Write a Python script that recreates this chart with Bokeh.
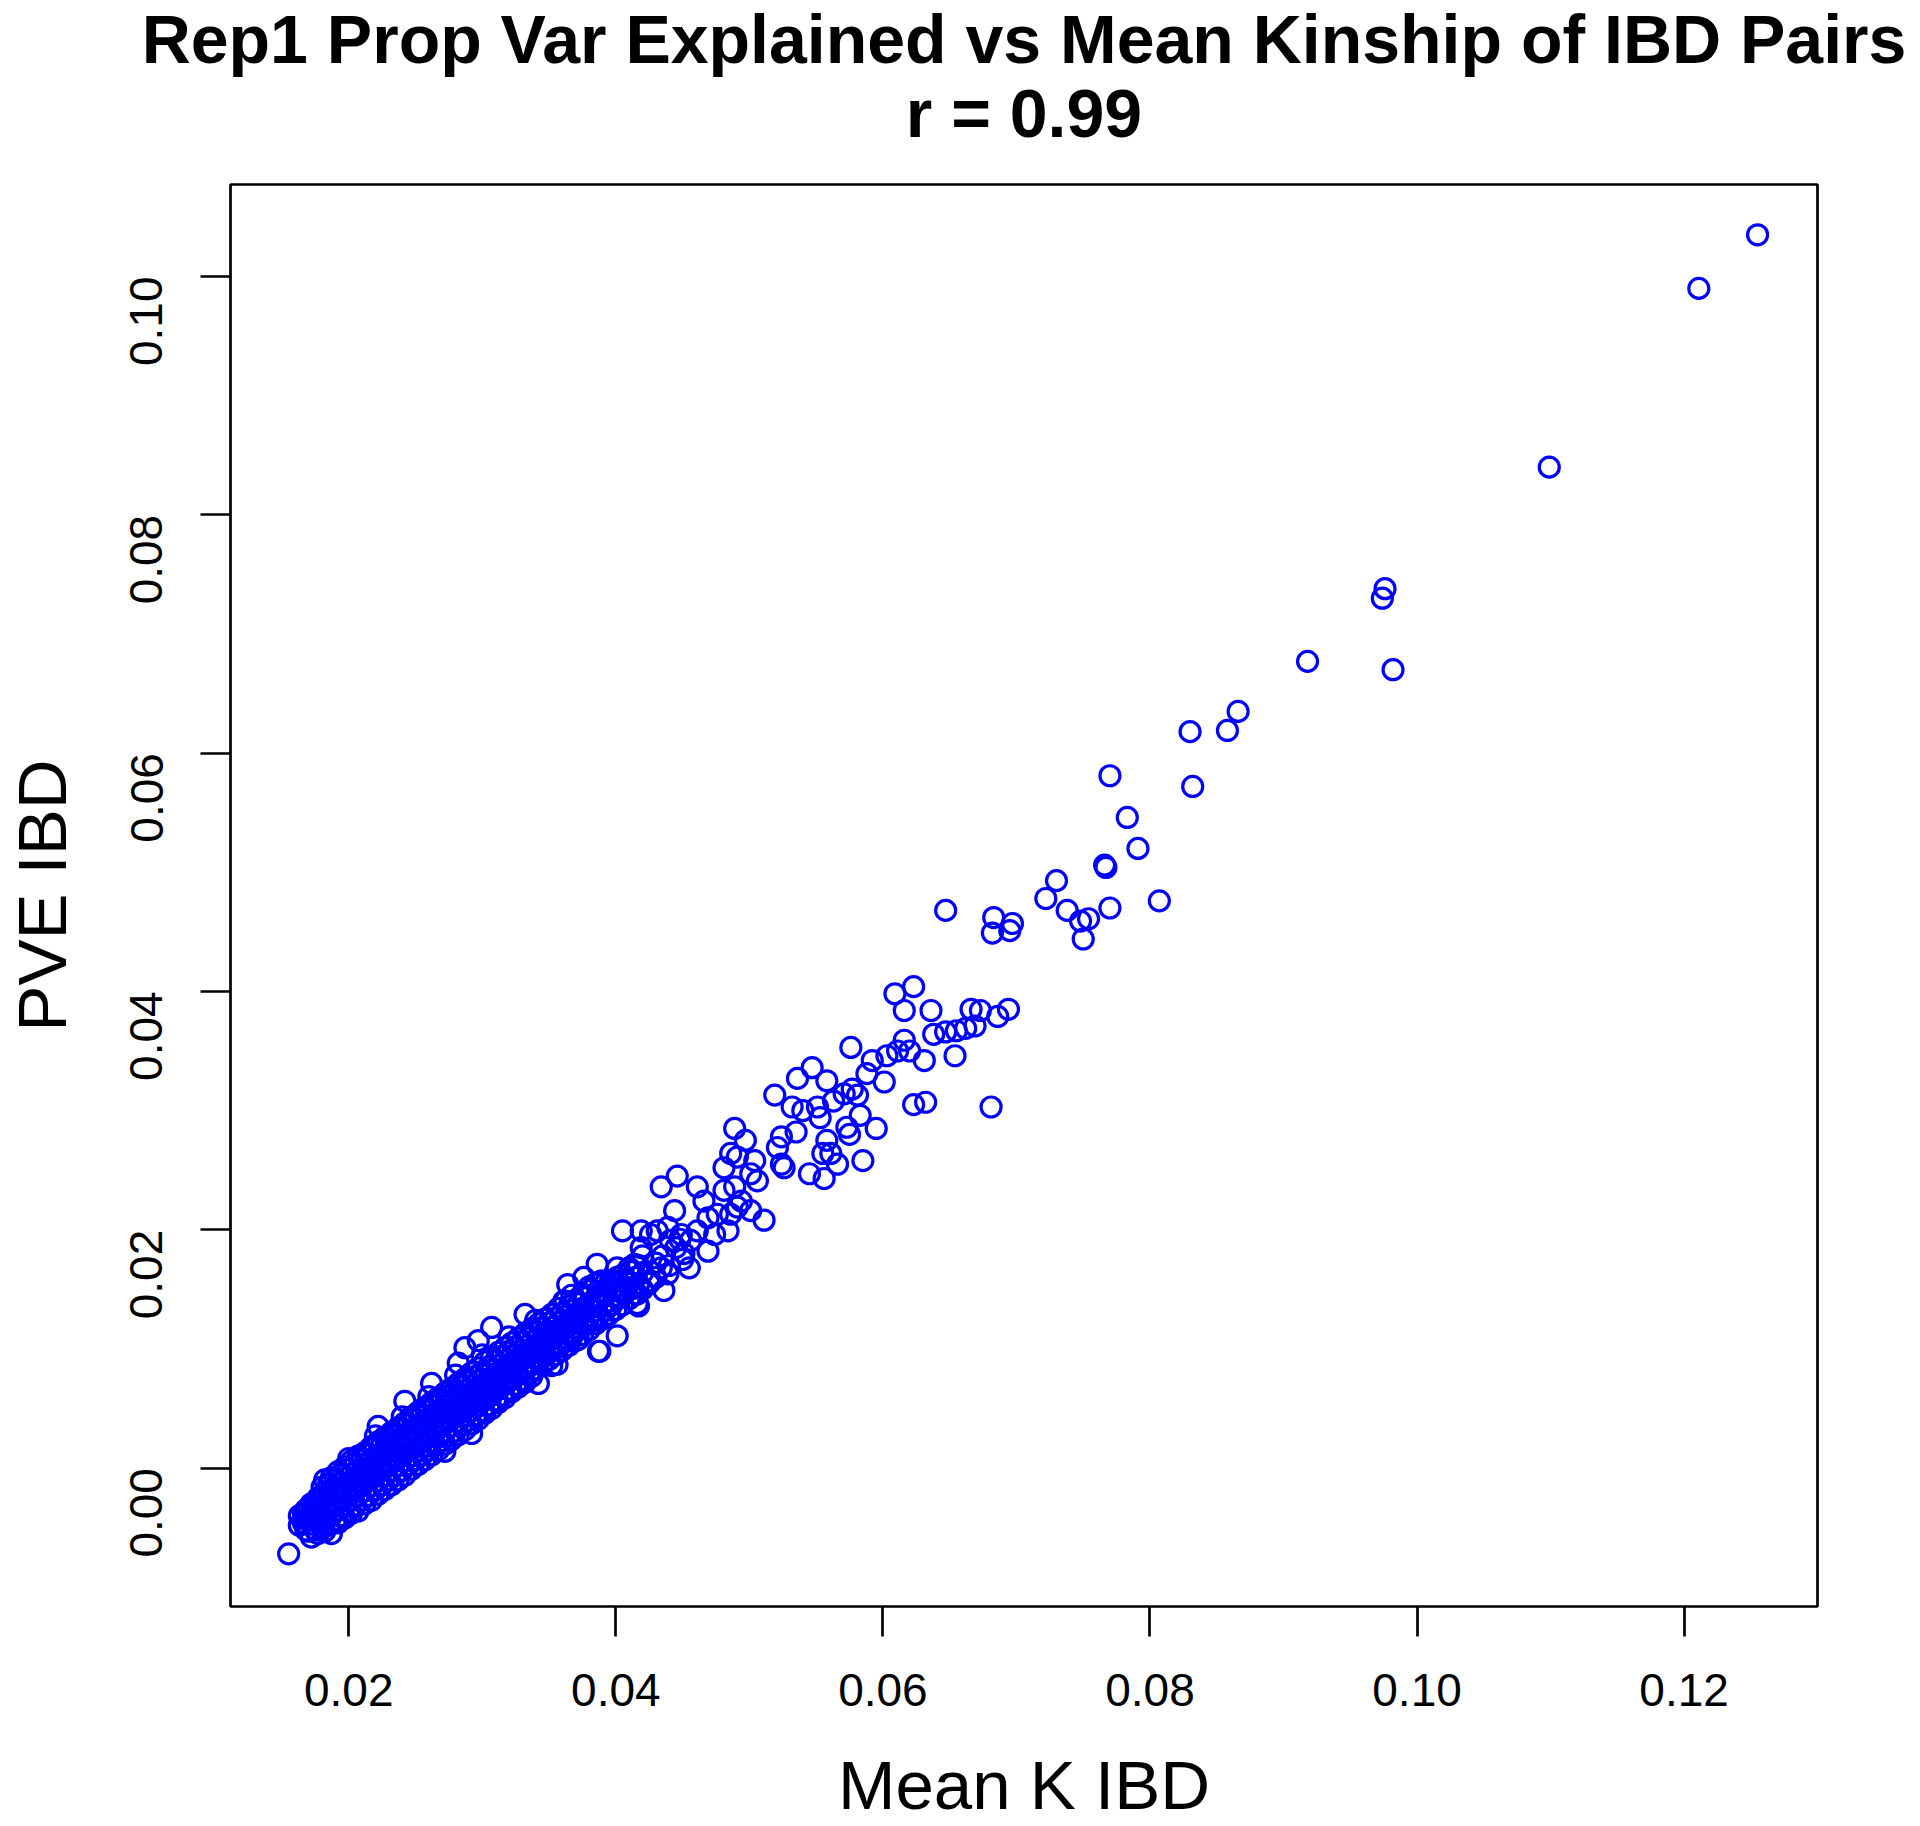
import math
from bokeh.plotting import figure
from bokeh.models import FixedTicker, PrintfTickFormatter, Title
from bokeh.embed import file_html
from bokeh.resources import INLINE

title_line1 = "Rep1 Prop Var Explained vs Mean Kinship of IBD Pairs"
title_line2 = "r = 0.99"
x_label = "Mean K IBD"
y_label = "PVE IBD"
x_ticks = [0.02, 0.04, 0.06, 0.08, 0.10, 0.12]
y_ticks = [0.00, 0.02, 0.04, 0.06, 0.08, 0.10]

# dense lower band: one x per column, several PVE values per column
band_x = [0.0155, 0.0163, 0.0168, 0.0172, 0.0177, 0.0182, 0.0187, 0.0192, 0.0197, 0.0202,
          0.0207, 0.0212, 0.0217, 0.0222, 0.0227, 0.0232, 0.0237, 0.0242, 0.0247, 0.0252,
          0.0257, 0.0262, 0.0267, 0.0272, 0.0277, 0.0282, 0.0287, 0.0292, 0.0297, 0.0302,
          0.0307, 0.0312, 0.0317, 0.0322, 0.0327, 0.0332, 0.0337, 0.0342, 0.0347, 0.0352,
          0.0357, 0.0362, 0.0367, 0.0372, 0.0377, 0.0382, 0.0387, 0.0392, 0.0397, 0.0401,
          0.0406, 0.0411, 0.0417]
band_y = [
    [-0.0072],
    [-0.0048, -0.0040],
    [-0.0052, -0.0043, -0.0035],
    [-0.0058, -0.0047, -0.0038, -0.0030],
    [-0.0055, -0.0045, -0.0034, -0.0025],
    [-0.0053, -0.0042, -0.0031, -0.0020, -0.0010],
    [-0.0055, -0.0040, -0.0029, -0.0018, -0.0008],
    [-0.0046, -0.0035, -0.0024, -0.0013, -0.0003],
    [-0.0042, -0.0031, -0.0020, -0.0009, 0.0001],
    [-0.0038, -0.0027, -0.0016, -0.0005, 0.0006],
    [-0.0036, -0.0023, -0.0012, -0.0001, 0.0010],
    [-0.0030, -0.0019, -0.0008, 0.0003, 0.0013],
    [-0.0027, -0.0015, -0.0004, 0.0007, 0.0018],
    [-0.0022, -0.0011, 0.0000, 0.0011, 0.0022, 0.0035],
    [-0.0018, -0.0007, 0.0004, 0.0015, 0.0026],
    [-0.0014, -0.0002, 0.0009, 0.0019, 0.0030],
    [-0.0010, 0.0002, 0.0013, 0.0023, 0.0034],
    [-0.0006, 0.0006, 0.0017, 0.0028, 0.0038, 0.0056],
    [-0.0001, 0.0010, 0.0021, 0.0032, 0.0043],
    [0.0003, 0.0014, 0.0025, 0.0036, 0.0047],
    [0.0007, 0.0018, 0.0029, 0.0040, 0.0051],
    [0.0011, 0.0022, 0.0033, 0.0044, 0.0055, 0.0071],
    [0.0015, 0.0026, 0.0037, 0.0048, 0.0059],
    [0.0014, 0.0020, 0.0031, 0.0042, 0.0053, 0.0063],
    [0.0024, 0.0035, 0.0046, 0.0057, 0.0067],
    [0.0028, 0.0039, 0.0050, 0.0061, 0.0071, 0.0088],
    [0.0032, 0.0043, 0.0054, 0.0065, 0.0075, 0.0101],
    [0.0029, 0.0037, 0.0048, 0.0059, 0.0069, 0.0080],
    [0.0041, 0.0052, 0.0063, 0.0073, 0.0084, 0.0107],
    [0.0046, 0.0057, 0.0067, 0.0078, 0.0089],
    [0.0050, 0.0061, 0.0071, 0.0082, 0.0093, 0.0118],
    [0.0055, 0.0066, 0.0076, 0.0086, 0.0097],
    [0.0059, 0.0070, 0.0080, 0.0090, 0.0101],
    [0.0064, 0.0074, 0.0084, 0.0094, 0.0105],
    [0.0068, 0.0078, 0.0088, 0.0098, 0.0109],
    [0.0072, 0.0082, 0.0092, 0.0102, 0.0113, 0.0129],
    [0.0077, 0.0087, 0.0096, 0.0106, 0.0117],
    [0.0071, 0.0090, 0.0100, 0.0110, 0.0121],
    [0.0094, 0.0104, 0.0114, 0.0125],
    [0.0086, 0.0098, 0.0108, 0.0118, 0.0129],
    [0.0102, 0.0112, 0.0122, 0.0134],
    [0.0106, 0.0117, 0.0127, 0.0140],
    [0.0110, 0.0121, 0.0132, 0.0145],
    [0.0108, 0.0116, 0.0126, 0.0138],
    [0.0120, 0.0131, 0.0143],
    [0.0124, 0.0135, 0.0150],
    [0.0098, 0.0128, 0.0140],
    [0.0132, 0.0145, 0.0155],
    [0.0137, 0.0150],
    [0.0111, 0.0142, 0.0160],
    [0.0146, 0.0158],
    [0.0150, 0.0165],
    [0.0136, 0.0154, 0.0170],
]

# second, interleaved set of columns inside the same dense band
band2_x = [0.0166, 0.0170, 0.0175, 0.0180, 0.0185, 0.0190, 0.0195, 0.0200, 0.0205, 0.0210,
           0.0215, 0.0220, 0.0225, 0.0230, 0.0235, 0.0240, 0.0245, 0.0250, 0.0255, 0.0260,
           0.0265, 0.0270, 0.0275, 0.0280, 0.0285, 0.0290, 0.0295, 0.0300, 0.0305, 0.0310,
           0.0315, 0.0320, 0.0325, 0.0330, 0.0335, 0.0340, 0.0345, 0.0350, 0.0355, 0.0360,
           0.0365, 0.0370, 0.0375, 0.0380, 0.0385, 0.0390, 0.0395, 0.0400, 0.0405, 0.0410,
           0.0415, 0.0420]
band2_y = [
    [-0.0046, -0.0038],
    [-0.0053, -0.0042, -0.0033],
    [-0.0052, -0.0041, -0.0031],
    [-0.0050, -0.0039, -0.0027, -0.0016],
    [-0.0048, -0.0036, -0.0024, -0.0013],
    [-0.0044, -0.0032, -0.0021, -0.0009],
    [-0.0040, -0.0028, -0.0017, -0.0005],
    [-0.0036, -0.0024, -0.0012, -0.0001, 0.0008],
    [-0.0031, -0.0019, -0.0008, 0.0004],
    [-0.0027, -0.0015, -0.0004, 0.0008],
    [-0.0023, -0.0011, 0.0000, 0.0012],
    [-0.0018, -0.0006, 0.0005, 0.0017, 0.0027],
    [-0.0014, -0.0002, 0.0009, 0.0021],
    [-0.0010, 0.0002, 0.0013, 0.0025],
    [-0.0006, 0.0006, 0.0017, 0.0029],
    [-0.0002, 0.0010, 0.0021, 0.0033, 0.0043],
    [0.0003, 0.0014, 0.0026, 0.0037],
    [0.0007, 0.0018, 0.0030, 0.0041],
    [0.0011, 0.0022, 0.0034, 0.0045],
    [0.0015, 0.0026, 0.0038, 0.0049, 0.0060],
    [0.0019, 0.0031, 0.0042, 0.0053],
    [0.0023, 0.0035, 0.0046, 0.0057],
    [0.0027, 0.0039, 0.0050, 0.0061],
    [0.0031, 0.0043, 0.0054, 0.0065, 0.0078],
    [0.0036, 0.0047, 0.0058, 0.0069],
    [0.0040, 0.0051, 0.0062, 0.0073],
    [0.0044, 0.0055, 0.0066, 0.0077],
    [0.0048, 0.0059, 0.0070, 0.0081, 0.0095],
    [0.0053, 0.0064, 0.0075, 0.0085],
    [0.0057, 0.0068, 0.0079, 0.0090],
    [0.0061, 0.0072, 0.0083, 0.0094],
    [0.0066, 0.0076, 0.0087, 0.0098, 0.0110],
    [0.0070, 0.0080, 0.0091, 0.0102],
    [0.0074, 0.0085, 0.0095, 0.0106],
    [0.0079, 0.0089, 0.0099, 0.0110],
    [0.0083, 0.0093, 0.0103, 0.0114, 0.0124],
    [0.0087, 0.0097, 0.0107, 0.0118],
    [0.0091, 0.0101, 0.0111, 0.0122],
    [0.0095, 0.0105, 0.0115, 0.0126],
    [0.0099, 0.0109, 0.0119, 0.0130],
    [0.0103, 0.0114, 0.0124, 0.0136],
    [0.0107, 0.0118, 0.0129, 0.0141],
    [0.0112, 0.0123, 0.0134, 0.0146],
    [0.0116, 0.0127, 0.0138, 0.0152],
    [0.0121, 0.0132, 0.0143, 0.0155],
    [0.0125, 0.0136, 0.0148],
    [0.0129, 0.0140, 0.0153],
    [0.0133, 0.0145, 0.0157],
    [0.0137, 0.0150, 0.0162],
    [0.0142, 0.0155, 0.0168],
    [0.0146, 0.0160],
    [0.0150, 0.0164, 0.0178],
]

# middle scatter (Mean K IBD, PVE IBD)
mid_x = [0.0681, 0.0632, 0.0623, 0.0654, 0.0636, 0.0616, 0.0694, 0.0686, 0.0673, 0.0666,
         0.0638, 0.0647, 0.0655, 0.0662, 0.0669, 0.0631, 0.0616, 0.0620, 0.0611, 0.0603,
         0.0601, 0.0576, 0.0547, 0.0536, 0.0519, 0.0532, 0.0540, 0.0551, 0.0558, 0.0563,
         0.0571, 0.0577, 0.0581, 0.0583, 0.0573, 0.0575, 0.0595, 0.0585, 0.0566, 0.0556,
         0.0545, 0.0558, 0.0555, 0.0561, 0.0553, 0.0535, 0.0524, 0.0521, 0.0526, 0.0524,
         0.0489, 0.0497, 0.0486, 0.0491, 0.0504, 0.0481, 0.0501, 0.0506, 0.0489, 0.0481,
         0.0494, 0.0511, 0.0501, 0.0491, 0.0486, 0.0476, 0.0466, 0.0461, 0.0469, 0.0484,
         0.0474, 0.0469, 0.0461, 0.0456, 0.0449, 0.0441, 0.0434, 0.0446, 0.0444, 0.0451,
         0.0455, 0.0439, 0.0431, 0.0426, 0.0419, 0.0405, 0.0419, 0.0414, 0.0409, 0.0401,
         0.0396, 0.0386, 0.0389, 0.0376, 0.0364, 0.0381, 0.0391, 0.0401, 0.0416, 0.0416,
         0.0426, 0.0434, 0.0439, 0.0436, 0.0388, 0.0356, 0.0361, 0.0371, 0.0366, 0.0376,
         0.0384, 0.0609, 0.0623, 0.0592, 0.0588,
         0.0425, 0.0430, 0.0430, 0.0435, 0.0440, 0.0445, 0.0450, 0.0448]
mid_y = [0.0303, 0.0307, 0.0305, 0.0346, 0.0384, 0.0384, 0.0385, 0.0379, 0.0384, 0.0385,
         0.0364, 0.0366, 0.0367, 0.0369, 0.0371, 0.0342, 0.0359, 0.0350, 0.0350, 0.0346,
         0.0324, 0.0353, 0.0336, 0.0327, 0.0313, 0.0303, 0.0300, 0.0303, 0.0325, 0.0308,
         0.0314, 0.0318, 0.0313, 0.0296, 0.0286, 0.0280, 0.0285, 0.0258, 0.0255, 0.0243,
         0.0247, 0.0275, 0.0264, 0.0264, 0.0294, 0.0282, 0.0278, 0.0269, 0.0252, 0.0255,
         0.0285, 0.0275, 0.0264, 0.0261, 0.0258, 0.0252, 0.0247, 0.0241, 0.0236, 0.0233,
         0.0224, 0.0208, 0.0216, 0.0219, 0.0213, 0.0213, 0.0224, 0.0236, 0.0210, 0.0199,
         0.0196, 0.0182, 0.0199, 0.0191, 0.0196, 0.0191, 0.0236, 0.0245, 0.0216, 0.0180,
         0.0168, 0.0202, 0.0199, 0.0196, 0.0199, 0.0199, 0.0185, 0.0171, 0.0157, 0.0168,
         0.0157, 0.0171, 0.0157, 0.0160, 0.0154, 0.0149, 0.0146, 0.0149, 0.0138, 0.0146,
         0.0157, 0.0168, 0.0163, 0.0149, 0.0098, 0.0087, 0.0140, 0.0121, 0.0112, 0.0126,
         0.0124, 0.0398, 0.0404, 0.0342, 0.0331,
         0.0155, 0.0160, 0.0172, 0.0178, 0.0170, 0.0185, 0.0175, 0.0192]

# upper sparse points
top_x = [0.1255, 0.1211, 0.1099, 0.0976, 0.0974, 0.0982, 0.0918, 0.0866, 0.0858, 0.0830,
         0.0832, 0.0770, 0.0783, 0.0791, 0.0766, 0.0767, 0.0730, 0.0722, 0.0738, 0.0770,
         0.0807, 0.0748, 0.0754, 0.0750, 0.0647, 0.0683, 0.0697, 0.0695, 0.0682]
top_y = [0.1035, 0.0990, 0.0840, 0.0738, 0.0730, 0.0670, 0.0677, 0.0635, 0.0619, 0.0618,
         0.0572, 0.0581, 0.0546, 0.0520, 0.0506, 0.0504, 0.0493, 0.0478, 0.0468, 0.0470,
         0.0476, 0.0459, 0.0461, 0.0444, 0.0468, 0.0462, 0.0457, 0.0451, 0.0449]

xs, ys = [], []
for bx, by in ((band_x, band_y), (band2_x, band2_y)):
    for xv, col in zip(bx, by):
        for yv in col:
            xs.append(xv)
            ys.append(yv)
xs += mid_x + top_x
ys += mid_y + top_y

FONT = "Liberation Sans"

p = figure(width=1920, height=1826, x_range=(0.011144, 0.129987), y_range=(-0.01162, 0.10772),
           output_backend="svg", toolbar_location=None, title=None)
p.min_border_left = 230
p.min_border_right = 103
p.min_border_top = 184
p.min_border_bottom = 220
p.background_fill_color = "white"
p.border_fill_color = "white"
p.outline_line_color = "black"
p.outline_line_width = 2.7
p.outline_line_alpha = 1.0
p.grid.visible = False

p.scatter(xs, ys, marker="circle", size=20, fill_color=None,
          line_color="#0000FF", line_width=3.2)

for ax in (p.xaxis[0], p.yaxis[0]):
    ax.axis_line_color = None
    ax.major_tick_line_width = 2.7
    ax.major_tick_line_color = "black"
    ax.major_tick_out = 30
    ax.major_tick_in = 0
    ax.minor_tick_line_color = None
    ax.major_label_text_font = FONT
    ax.major_label_text_font_size = "46px"
    ax.major_label_text_color = "black"
    ax.axis_label_text_font = FONT
    ax.axis_label_text_font_size = "69px"
    ax.axis_label_text_font_style = "normal"
    ax.axis_label_text_color = "black"
    ax.formatter = PrintfTickFormatter(format="%.2f")

p.xaxis.ticker = FixedTicker(ticks=x_ticks)
p.yaxis.ticker = FixedTicker(ticks=y_ticks)
p.xaxis.axis_label = x_label
p.yaxis.axis_label = y_label
p.xaxis.major_label_standoff = 37
p.xaxis.axis_label_standoff = 38
p.yaxis.major_label_standoff = 54
p.yaxis.major_label_orientation = math.pi / 2
p.yaxis.axis_label_standoff = 31

# Title text sits at (its box bottom - standoff/2); the first added is nearest the frame
t2 = Title(text=title_line2, align="center", text_font=FONT, text_font_size="68px",
           text_font_style="bold", text_color="black", standoff=68)
t1 = Title(text=title_line1, align="center", text_font=FONT, text_font_size="68px",
           text_font_style="bold", text_color="black", standoff=-76)
p.add_layout(t2, "above")
p.add_layout(t1, "above")

open("out.html", "w").write(file_html(p, INLINE))
